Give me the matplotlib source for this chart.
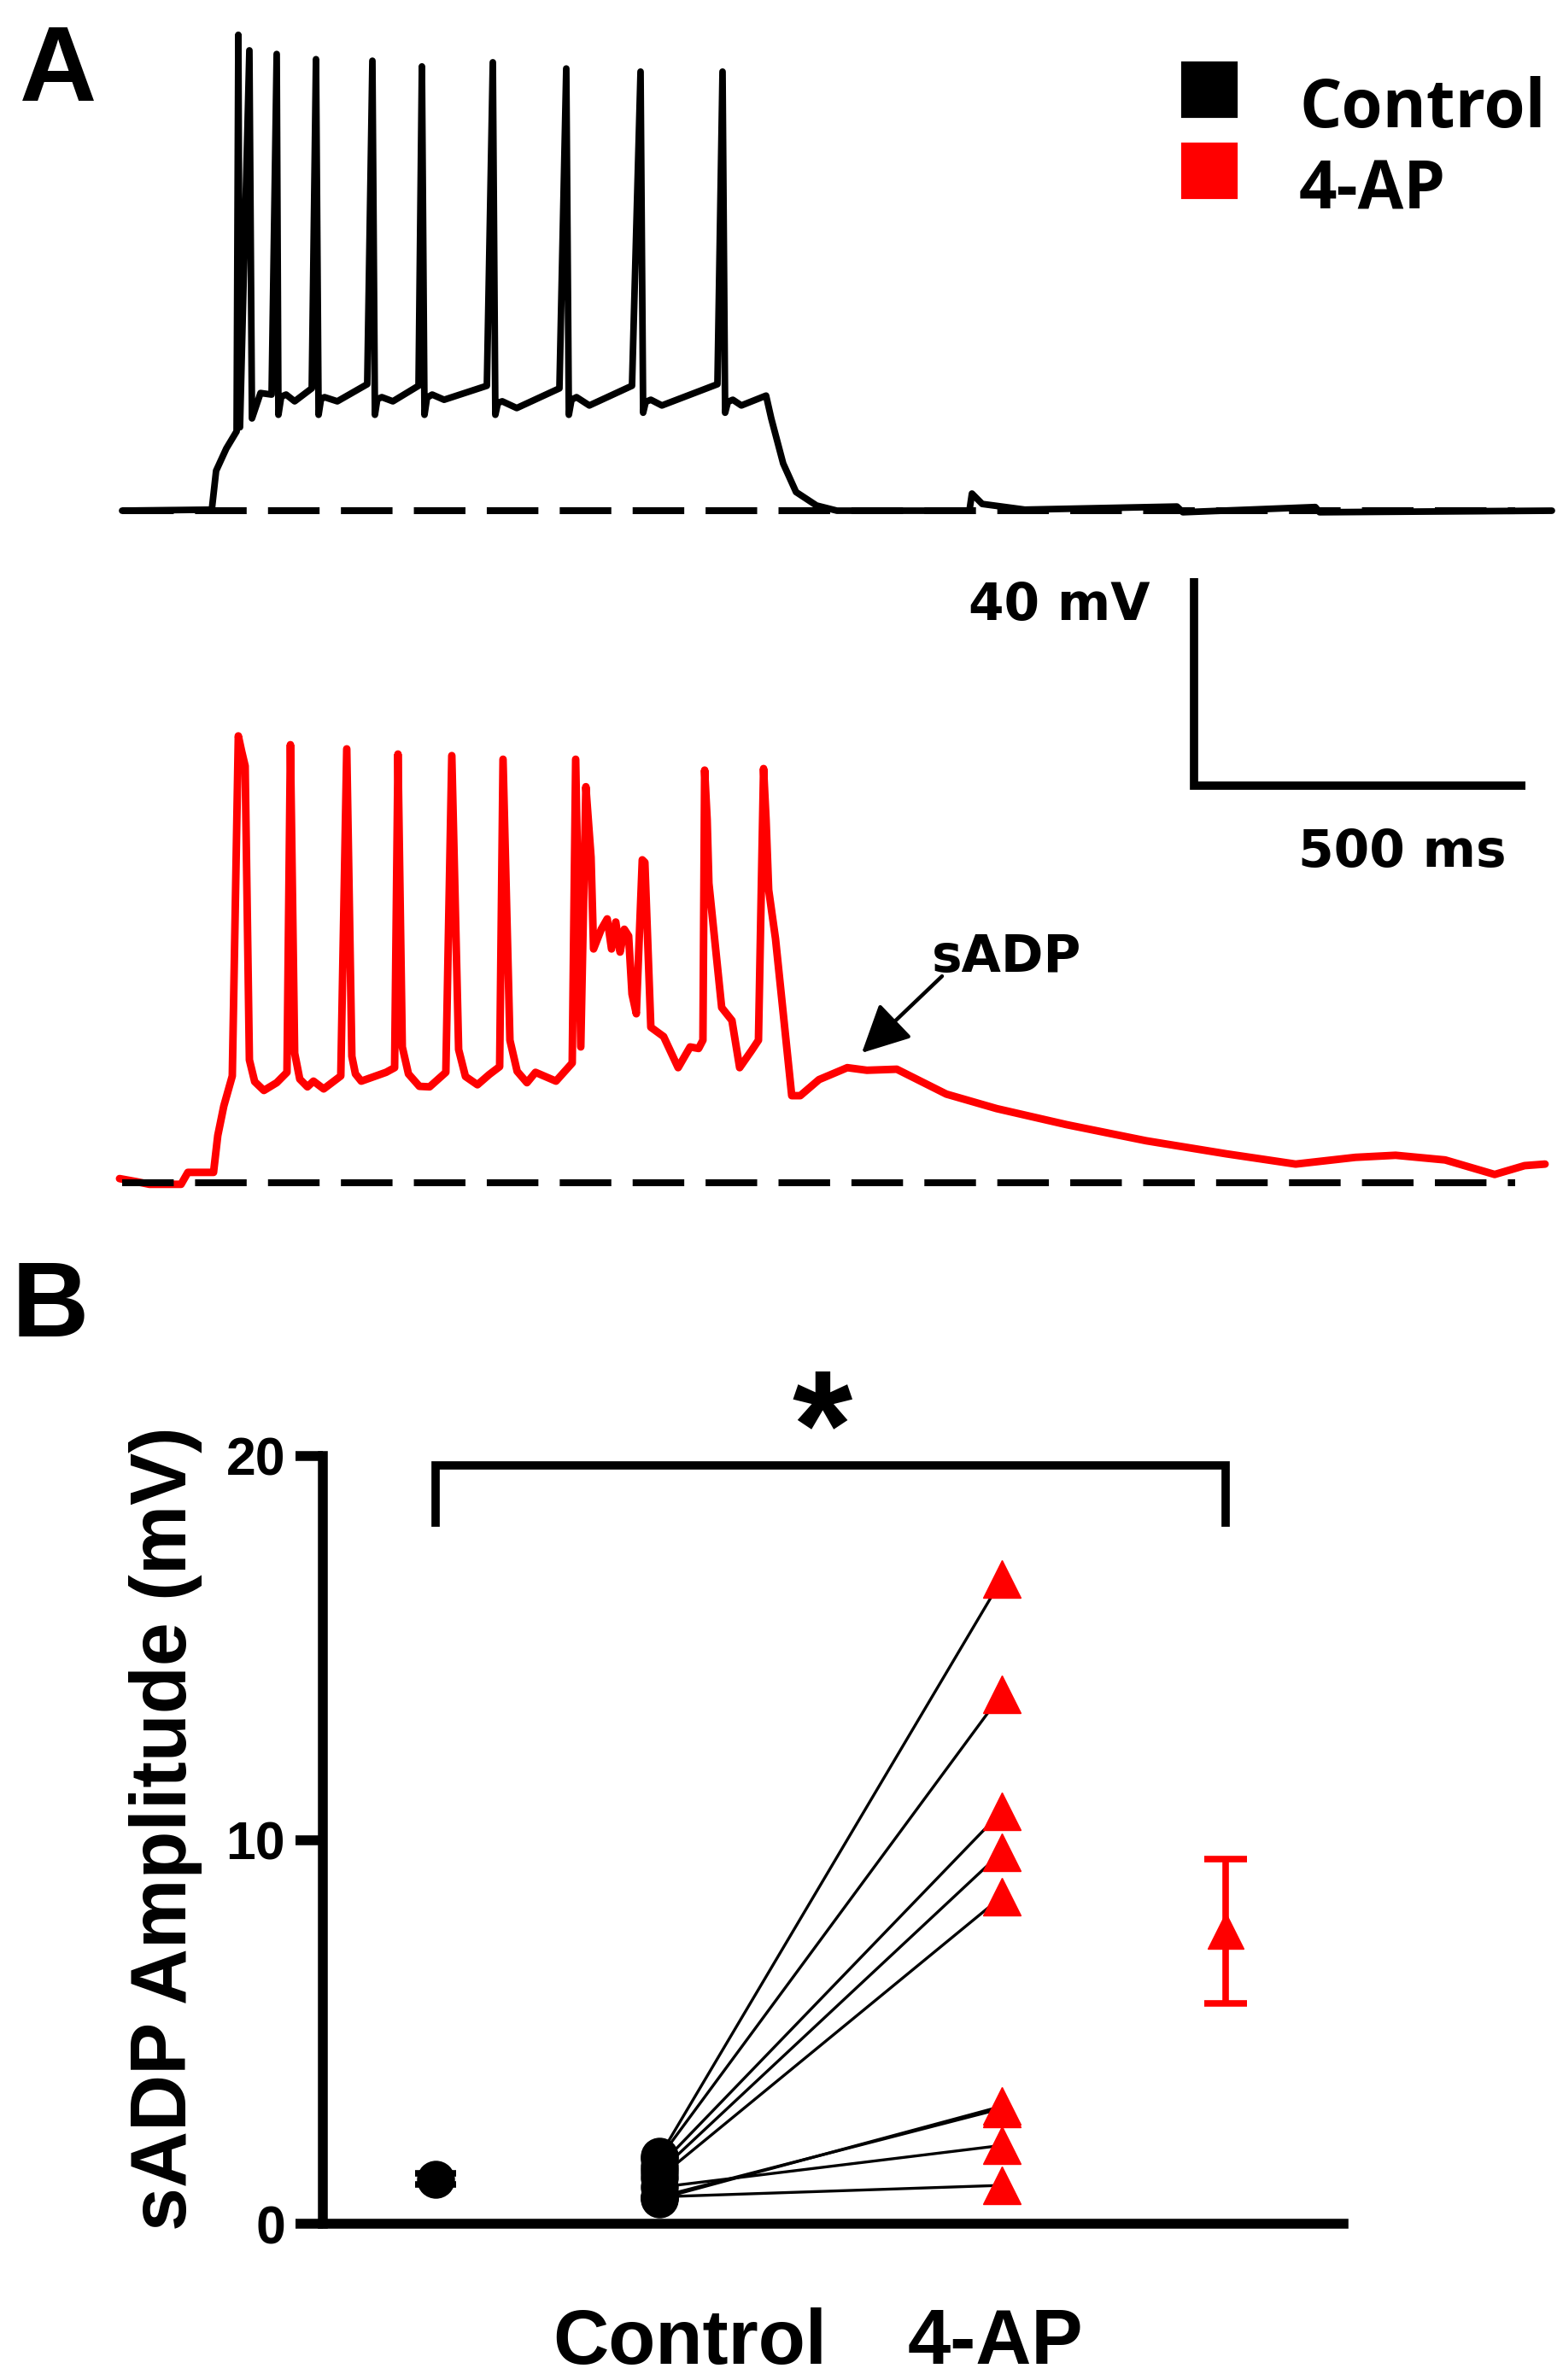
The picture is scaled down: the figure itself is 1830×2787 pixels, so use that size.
import numpy as np
import matplotlib
matplotlib.use('Agg')
import matplotlib.pyplot as plt

plt.rcParams['font.family'] = ['Liberation Sans', 'DejaVu Sans']

# ---------------- data ----------------
# Panel A: control trace (time ms, membrane potential mV relative to rest)
ctrl_trace = [
    (0, 0), (135.3, 0.2), (141.8, 7.7), (157.2, 12.0), (172.7, 15.3),
    (175.3, 91.8), (177.8, 16.1), (192.0, 88.8), (195.9, 17.8), (208.8, 22.7),
    (225.5, 22.4), (233.2, 88.1), (235.8, 18.5), (240.0, 22.0), (247.4, 22.4),
    (260.3, 21.1), (286.1, 23.6), (292.5, 87.1), (296.4, 18.5), (300.0, 21.5),
    (305.4, 21.9), (324.7, 21.1), (369.8, 24.4), (377.6, 86.8), (381.4, 18.5),
    (385.0, 21.5), (391.8, 21.9), (408.5, 21.1), (447.2, 24.1), (452.3, 85.7),
    (456.2, 18.5), (460.0, 21.8), (467.8, 22.4), (485.8, 21.4), (550.3, 24.1),
    (559.3, 86.5), (563.1, 18.5), (567.0, 20.8), (573.5, 21.1), (595.4, 19.8),
    (659.8, 23.6), (670.1, 85.3), (674.0, 18.5), (678.0, 21.4), (685.6, 21.9),
    (704.9, 20.3), (769.3, 24.1), (782.2, 84.7), (786.1, 18.9), (790.0, 21.0),
    (797.7, 21.4), (814.4, 20.3), (898.2, 24.4), (905.9, 84.7), (909.8, 18.9),
    (914.0, 21.0), (921.4, 21.4), (934.3, 20.3), (971.6, 22.2), (979.4, 17.8),
    (997.4, 9.1), (1016.8, 3.6), (1047.7, 1.0), (1078.6, 0), (1278.4, 0),
    (1282.2, 3.3), (1297.7, 1.3), (1362, 0.2), (1591.5, 0.8), (1600.5, -0.3),
    (1800.3, 0.7), (1806.7, -0.3), (2157.2, 0),
]

# Panel A: 4-AP trace (time ms, mV relative to rest)
ap_trace = [
    (-3.9, 0.8), (21.9, 0.2), (41.2, -0.3), (88.9, -0.3), (99.2, 2.0),
    (137.9, 2.0), (144.3, 9.1), (153.4, 14.8), (166.2, 20.6), (175.3, 86.2),
    (180.4, 83.2), (185.6, 80.4), (192.0, 23.7), (200.0, 19.5), (213.9, 17.8),
    (233.2, 19.3), (248.7, 21.3), (253.9, 84.5), (260.3, 25.0), (268.0, 20.0),
    (279.6, 18.5), (288.7, 19.6), (304.1, 18.1), (329.9, 20.6), (338.9, 83.7),
    (346.6, 24.4), (352.0, 21.0), (360.8, 19.6), (398.2, 21.3), (411.1, 22.2),
    (416.2, 82.7), (422.7, 26.2), (432.0, 21.0), (448.5, 18.6), (463.9, 18.5),
    (488.4, 21.3), (497.4, 82.4), (507.7, 25.7), (518.0, 20.5), (536.1, 18.9),
    (554.1, 20.9), (569.6, 22.4), (574.7, 81.7), (585.1, 27.5), (596.0, 21.5),
    (610.8, 19.3), (623.7, 21.3), (654.6, 19.6), (679.1, 23.1), (684.3, 81.7),
    (692.0, 26.2), (699.7, 76.4), (707.5, 62.8), (711.3, 45.1), (722.9, 48.9),
    (731.9, 50.9), (738.4, 45.1), (744.8, 50.3), (751.3, 44.5), (757.7, 48.9),
    (764.2, 47.6), (769.3, 36.4), (775.8, 32.6), (784.8, 62.3), (788.7, 61.8),
    (797.7, 30.0), (817.0, 28.2), (838.9, 22.2), (857.0, 26.2), (869.8, 25.9),
    (876.3, 27.5), (878.9, 79.6), (882.7, 70.0), (885.3, 57.8), (904.6, 33.8),
    (920.1, 31.3), (931.7, 22.2), (949.7, 25.5), (960.1, 27.5), (967.8, 79.9),
    (971.6, 70.0), (975.5, 56.5), (985.8, 47.1), (1010.3, 16.8), (1023.2, 16.8),
    (1051.5, 19.9), (1094.1, 22.2), (1123.7, 21.7), (1168.8, 21.9), (1243.6, 17.1),
    (1319.6, 14.3), (1425.3, 11.2), (1545.1, 8.1), (1665.0, 5.6), (1770.6, 3.6),
    (1860.8, 4.9), (1921.4, 5.3), (1996.1, 4.4), (2070.9, 1.6), (2116.0, 3.3),
    (2146.9, 3.6),
]

trace_names = ['Control', '4-AP']
trace_colors = ['black', '#FF0000']
scale_mv = 40
scale_ms = 500

# Panel B: sADP amplitude (mV), paired cells
sadp_control = [1.75, 1.7, 1.5, 1.35, 1.2, 0.65, 0.7, 0.95, 0.7]
sadp_4ap = [16.79, 13.8, 10.74, 9.68, 8.52, 3.06, 3.0, 2.04, 1.0]
group_labels = ['Control', '4-AP']
y_ticks = [0, 10, 20]

# ---------------- figure ----------------
W, H, DPI = 1830, 2787, 100
fig = plt.figure(figsize=(W / DPI, H / DPI), dpi=DPI)

# ----- Panel A -----
axA = fig.add_axes([0, 1 - 1480 / H, 1, 1480 / H])
axA.set_xlim(-184.28, 2174.0)
axA.set_ylim(-145.30, 98.52)
axA.axis('off')

red_offset = -129.65
dash_start, dash_end = 0, 2102

ct = np.array(ctrl_trace)
at = np.array(ap_trace)

axA.hlines(0, dash_start, dash_end, colors='black', lw=5.8,
           linestyles=(0, (7.5, 3.1)), zorder=1)
axA.plot(ct[:, 0], ct[:, 1], color=trace_colors[0], lw=5.6, zorder=2,
         solid_joinstyle='round', solid_capstyle='round')
axA.plot(at[:, 0], at[:, 1] + red_offset, color=trace_colors[1], lw=6.4,
         zorder=2, solid_joinstyle='round', solid_capstyle='round')
axA.hlines(red_offset, dash_start, dash_end, colors='black', lw=5.8,
           linestyles=(0, (7.5, 3.1)), zorder=3)

# scale bar
sb_t, sb_v = 1617.3, -53.0
axA.plot([sb_t, sb_t, sb_t + scale_ms], [sb_v + scale_mv, sb_v, sb_v],
         color='black', lw=7, solid_joinstyle='miter', solid_capstyle='butt')
axA.text(1551.5, -21.1, f'{scale_mv} mV', ha='right', va='baseline',
         fontsize=43, fontweight='bold', family='DejaVu Sans')
axA.text(1931.7, -68.7, f'{scale_ms} ms', ha='center', va='baseline',
         fontsize=43, fontweight='bold', family='DejaVu Sans')

# legend
leg_t = 1640.5
leg_v = [81.3, 65.5]
leg_text_v = [74.0, 58.2]
for name, col, v, tv in zip(trace_names, trace_colors, leg_v, leg_text_v):
    axA.plot([leg_t], [v], marker='s', ms=44, color=col, mec=col,
             markeredgewidth=3, linestyle='none', clip_on=False)
    axA.text(1775.8, tv, name, ha='left', va='baseline', fontsize=56,
             fontweight='bold', family='Open Sans')

# sADP annotation
axA.annotate('', xy=(1116.0, -104.6), xytext=(1237.1, -89.8),
             arrowprops=dict(arrowstyle='-|>', mutation_scale=86, lw=3.2,
                             color='black', shrinkA=0, shrinkB=0))
axA.text(1221.6, -89.0, 'sADP', ha='left', va='baseline', fontsize=43,
         fontweight='bold', family='DejaVu Sans')

# ----- Panel B -----
axB = fig.add_axes([378 / W, (H - 2604) / H, 1195 / W, 899 / H])
axB.set_xlim(-0.5038, 4.057)
axB.set_ylim(0, 20)
for s in ['top', 'right']:
    axB.spines[s].set_visible(False)
for s in ['left', 'bottom']:
    axB.spines[s].set_linewidth(8.3)
axB.set_xticks([])
axB.set_yticks(y_ticks)
axB.set_yticklabels([str(t) for t in y_ticks])
axB.tick_params(axis='y', length=23, width=8.3, pad=8.6, labelsize=45)
for lbl in axB.get_yticklabels():
    lbl.set_fontweight('bold')

x_mean_c, x_c, x_a, x_mean_a = 0.0, 1.0, 2.53, 3.53

c = np.array(sadp_control)
a = np.array(sadp_4ap)
for cv, av in zip(c, a):
    axB.plot([x_c, x_a], [cv, av], color='black', lw=2.4, zorder=2)
axB.plot(np.full(len(c), x_c), c, 'o', ms=31, color='black', zorder=3,
         clip_on=False)
axB.plot(np.full(len(a), x_a), a, '^', ms=31, color='#FF0000', zorder=3,
         clip_on=False)

mean_c, sem_c = c.mean(), c.std(ddof=1) / np.sqrt(len(c))
mean_a, sem_a = a.mean(), a.std(ddof=1) / np.sqrt(len(a))
axB.errorbar([x_mean_c], [mean_c], yerr=[sem_c], fmt='o', ms=31,
             color='black', capsize=17, elinewidth=5.5, capthick=5.5,
             clip_on=False, zorder=3)
axB.errorbar([x_mean_a], [mean_a], yerr=[sem_a], fmt='^', ms=30,
             color='#FF0000', capsize=18, elinewidth=5.5, capthick=5.5,
             clip_on=False, zorder=3)

# significance bracket
br_y, br_drop = 19.76, 1.5
axB.plot([x_mean_c, x_mean_c, x_mean_a, x_mean_a],
         [br_y - br_drop, br_y, br_y, br_y - br_drop],
         color='black', lw=7, clip_on=False, solid_joinstyle='miter')
axB.text(1.729, 19.44, '*', ha='center', va='baseline', fontsize=130,
         fontweight='bold', clip_on=False)

axB.text(-0.154, 0.515, 'sADP Amplitude (mV)', transform=axB.transAxes,
         rotation=90, ha='center', va='center', fontsize=66,
         fontweight='bold')
axB.text(1.137, -3.65, group_labels[0], ha='center', va='baseline',
         fontsize=65, fontweight='bold', clip_on=False)
axB.text(2.5, -3.65, group_labels[1], ha='center', va='baseline',
         fontsize=65, fontweight='bold', clip_on=False)

# panel labels
fig.text(23 / W, 1 - 118 / H, 'A', ha='left', va='baseline', fontsize=90,
         fontweight='bold')
fig.text(14 / W, 1 - 1565 / H, 'B', ha='left', va='baseline', fontsize=90,
         fontweight='bold')

fig.savefig('out.png', dpi=DPI)
